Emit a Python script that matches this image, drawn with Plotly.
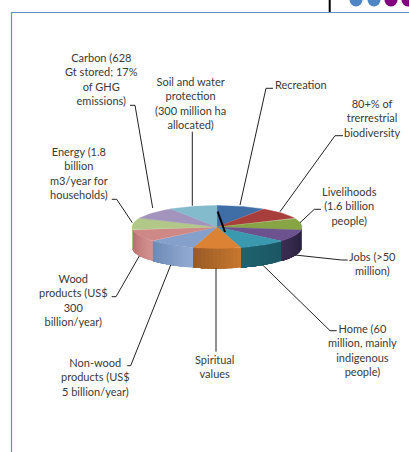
import numpy as np
import plotly.graph_objects as go

# Slices, clockwise from the back of the pie
categories = ["Recreation", "80+% of biodiversity", "Livelihoods", "Jobs", "Home", "Spiritual values",
              "Non-wood products", "Wood products", "Energy", "Carbon", "Soil and water protection"]
values = [1, 1, 1, 1, 1, 1, 1, 1, 1, 1, 1]
top_colors = ["#3F6EA6", "#A83E3B", "#87A545", "#6C528F", "#3A98AF", "#DB8234",
              "#84A0CB", "#CE8987", "#B1C888", "#A394BD", "#84BBCC"]
side_from = ["#3F6EA6", "#A83E3B", "#4F6128", "#2A2140", "#1B5663", "#C6762E",
             "#90A9D2", "#D29190", "#B1C888", "#A394BD", "#84BBCC"]
side_to = ["#3F6EA6", "#A83E3B", "#4F6128", "#3B2D52", "#1F6270", "#9A5C26",
           "#6E8BB6", "#B86F6E", "#B1C888", "#A394BD", "#84BBCC"]

# Label text, block centre and leader line
labels = ["Recreation", "80+% of<br>trerrestrial<br>biodiversity", "Livelihoods<br>(1.6 billion<br>people)",
          "Jobs (>50<br>million)", "Home (60<br>million, mainly<br>indigenous<br>people)", "Spiritual<br>values",
          "Non-wood<br>products (US$<br>5 billion/year)", "Wood<br>products (US$<br>300<br>billion/year)",
          "Energy (1.8<br>billion<br>m3/year for<br>households)", "Carbon (628<br>Gt stored; 17%<br>of GHG<br>emissions)",
          "Soil and water<br>protection<br>(300 million ha<br>allocated)"]
label_x = [301, 372, 349, 372, 362, 214, 95, 73, 79, 101, 190]
label_y = [84, 117.5, 206, 263.5, 349.5, 366.5, 376.7, 300.3, 173.3, 79, 102.5]
leader_x = [[273, 266, 240], [343, 335, 280], [321, 314.3, 300], [347.7, 341.7, 295], [336.7, 330, 262.7],
            [216, 216], [127.3, 130.7, 170.7], [111.7, 116, 139.3], [111.7, 116.7, 132.3], [130, 135, 152.7], [192.3, 192.3]]
leader_y = [[88.3, 88.3, 205], [135.7, 135.7, 211.7], [209.3, 209.3, 222.7], [260, 260, 255], [330.7, 330.7, 265],
            [268.3, 351.7], [365.7, 365.7, 265], [296.7, 296.7, 256], [199.3, 199.3, 222.7], [105.3, 105.3, 208], [131.7, 205.7]]

W, H = 409, 452
cx, cy, rx, ry, depth = 217, 227, 85, 21.5, 20


def mix(a, b, t):
    ca = [int(a[i:i + 2], 16) for i in (1, 3, 5)]
    cb = [int(b[i:i + 2], 16) for i in (1, 3, 5)]
    return "rgb({},{},{})".format(*[round(p + (q - p) * t) for p, q in zip(ca, cb)])


def arc(a0, a1, n=40):
    th = np.radians(np.linspace(a0, a1, n))
    return cx + rx * np.sin(th), cy - ry * np.cos(th)


edges = np.concatenate([[0], np.cumsum(values)]) / np.sum(values) * 360
fig = go.Figure()

# Sides: visible front half, shaded in narrow strips painted back to front over each other
for i in range(len(values)):
    a0, a1 = max(edges[i], 90), min(edges[i + 1], 270)
    if a1 <= a0:
        continue
    n = 12
    cuts = np.linspace(a0, a1, n + 1)
    for k in range(n):
        ax, ay = arc(cuts[k], a1, 24)
        col = mix(side_from[i], side_to[i], k / (n - 1))
        fig.add_trace(go.Scatter(x=np.r_[ax, ax[::-1]], y=np.r_[ay, ay[::-1] + depth], mode="none",
                                 fill="toself", fillcolor=col,
                                 hoverinfo="skip", showlegend=False))

# Top face
for i, name in enumerate(categories):
    ax, ay = arc(edges[i], edges[i + 1])
    fig.add_trace(go.Scatter(x=np.r_[cx, ax, cx], y=np.r_[cy, ay, cy], mode="lines", name=name,
                             fill="toself", fillcolor=top_colors[i], line=dict(color=top_colors[i], width=0.4),
                             hoverinfo="skip", showlegend=False))

# Leader lines and labels
for lx, ly in zip(leader_x, leader_y):
    fig.add_trace(go.Scatter(x=lx, y=ly, mode="lines", line=dict(color="#222222", width=1),
                             hoverinfo="skip", showlegend=False))
annotations = [dict(x=x, y=y, text=t, showarrow=False, xanchor="center", yanchor="middle", align="center",
                    font=dict(family="Lato", size=11, color="#3a3a3a"))
               for t, x, y in zip(labels, label_x, label_y)]

shapes = [
    dict(type="line", x0=11, x1=W, y0=12.5, y1=12.5, line=dict(color="#5F8FCC", width=1.2)),
    dict(type="line", x0=11.5, x1=11.5, y0=12, y1=H, line=dict(color="#5F8FCC", width=1.2)),
    dict(type="line", x0=329.7, x1=329.7, y0=0, y1=12, line=dict(color="#000000", width=2)),
    dict(type="line", x0=217.7, x1=225, y0=211.7, y1=232, line=dict(color="#000000", width=2)),
]
for xc, col in zip([356, 374, 391, 408], ["#4F86C6", "#4F86C6", "#800080", "#800080"]):
    shapes.append(dict(type="circle", x0=xc - 6.5, x1=xc + 6.5, y0=-6.5, y1=6.5, fillcolor=col, line=dict(width=0)))

fig.update_layout(
    width=W, height=H, margin=dict(l=0, r=0, t=0, b=0), paper_bgcolor="white", plot_bgcolor="white",
    xaxis=dict(range=[0, W], visible=False, fixedrange=True),
    yaxis=dict(range=[H, 0], visible=False, fixedrange=True),
    annotations=annotations, shapes=shapes, showlegend=False,
)
fig.write_html("out.html", config=dict(displayModeBar=False),
               post_script="document.body.style.margin='0';document.body.style.overflow='hidden';")
